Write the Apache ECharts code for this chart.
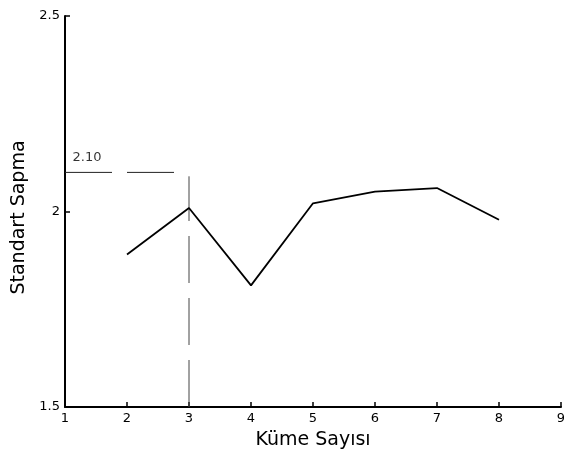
<!DOCTYPE html>
<html>
<head>
<meta charset="utf-8">
<script src="https://cdn.jsdelivr.net/npm/echarts@6/dist/echarts.min.js"></script>
<style>
  html, body { margin: 0; padding: 0; background: #fff; }
  #chart { width: 564px; height: 457px; }
</style>
</head>
<body>
<div id="chart"></div>
<script>
// cluster counts and standard deviation values
const clusterCounts = [2, 3, 4, 5, 6, 7, 8];
const stdDevs = [1.89, 2.009, 1.811, 2.021, 2.051, 2.06, 1.979];

// reference guide: chosen cluster count and its value
const guideX = 3;
const guideY = 2.10;
const guideLabel = "2.10";

const xMin = 1, xMax = 9;
const yMin = 1.5, yMax = 2.5;

const font = "DejaVu Sans";

const chart = echarts.init(document.getElementById("chart"));

const option = {
  animation: false,
  grid: { left: 65, right: 3, top: 16, bottom: 50, outerBoundsMode: "none" },
  xAxis: {
    type: "value",
    min: xMin,
    max: xMax,
    interval: 1,
    name: "Küme Sayısı",
    nameLocation: "middle",
    nameGap: 24,
    nameTextStyle: { fontFamily: font, fontSize: 19, color: "#000" },
    axisLine: { lineStyle: { color: "#000", width: 2 } },
    axisTick: { inside: true, length: 5, lineStyle: { color: "#000", width: 1.5 } },
    axisLabel: { margin: 5, fontFamily: font, fontSize: 13, color: "#000" },
    splitLine: { show: false }
  },
  yAxis: {
    type: "value",
    min: yMin,
    max: yMax,
    interval: 0.5,
    name: "Standart Sapma",
    nameLocation: "middle",
    nameGap: 36,
    nameTextStyle: { fontFamily: font, fontSize: 19, color: "#000", padding: [0, 12, 0, 0] },
    axisLine: { show: true, lineStyle: { color: "#000", width: 2 } },
    axisTick: { show: true, inside: true, length: 5, lineStyle: { color: "#000", width: 1.5 } },
    axisLabel: { margin: 5, fontFamily: font, fontSize: 13, color: "#000" },
    splitLine: { show: false }
  },
  series: [
    {
      type: "line",
      data: clusterCounts.map((x, i) => [x, stdDevs[i]]),
      showSymbol: false,
      lineStyle: { color: "#000", width: 1.8 },
      z: 3
    },
    {
      // horizontal dashed guide
      type: "line",
      data: [[xMin, guideY], [guideX, guideY]],
      showSymbol: false,
      lineStyle: { color: "#222", width: 1, type: [47, 15] },
      z: 2
    },
    {
      // vertical dashed guide
      type: "line",
      data: [[guideX, yMin], [guideX, guideY - 0.01]],
      showSymbol: false,
      lineStyle: { color: "#444", width: 1, type: [47, 15] },
      z: 2
    },
    {
      type: "scatter",
      data: [[xMin, guideY]],
      symbolSize: 1,
      itemStyle: { color: "rgba(0,0,0,0)" },
      silent: true,
      label: {
        show: true,
        position: "right",
        distance: 5,
        offset: [2, -15],
        formatter: guideLabel,
        fontFamily: font,
        fontSize: 13,
        color: "#000"
      }
    }
  ]
};

chart.setOption(option);
</script>
</body>
</html>
